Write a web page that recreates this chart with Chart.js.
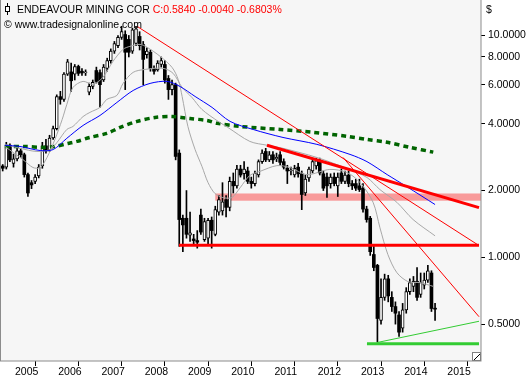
<!DOCTYPE html>
<html>
<head>
<meta charset="utf-8">
<script src="https://cdn.jsdelivr.net/npm/chart.js@4.4.0/dist/chart.umd.min.js"></script>
<style>
  html, body { margin: 0; padding: 0; background: #fff; }
  canvas { display: block; }
</style>
</head>
<body>
<canvas id="chart" width="530" height="378"></canvas>
<script>
// Bougies mensuelles, index 0 = octobre 2004 ... 120 = octobre 2014
const opens = [2.58,2.55,3.20,2.65,2.78,3.02,2.90,2.36,2.17,2.20,2.33,2.58,3.18,3.05,3.45,3.80,5.30,5.15,6.70,6.85,
  6.70,7.25,6.90,6.78,5.55,5.90,6.95,6.80,6.30,7.10,7.70,8.50,9.00,9.80,10.1,9.60,8.50,9.20,9.90,9.10,
  8.20,8.40,7.10,7.00,7.40,7.40,6.40,5.70,6.00,2.95,1.50,1.50,1.26,1.21,1.19,1.55,1.20,1.22,1.47,1.27,
  1.60,1.62,1.82,1.68,2.20,2.10,2.50,2.38,2.45,2.20,2.15,2.35,2.70,3.00,2.75,2.90,2.78,2.90,2.70,2.52,
  2.45,2.35,2.55,2.38,1.95,2.28,2.45,2.58,2.72,2.38,2.30,2.15,2.30,2.10,2.40,2.20,2.35,2.15,2.15,2.10,
  2.05,1.65,1.50,1.03,0.92,0.52,0.66,0.80,0.66,0.60,0.55,0.48,0.58,0.70,0.74,0.78,0.68,0.75,0.79,0.85,0.588];
const highs = [2.62,3.30,3.25,2.92,3.12,3.10,2.95,2.40,2.22,2.36,2.62,3.30,3.40,3.55,3.90,5.40,5.60,6.80,7.80,7.50,
  7.40,7.35,7.10,7.00,6.10,6.30,7.20,7.00,7.40,7.90,8.70,9.40,10.0,11.0,10.5,10.0,10.8,11.0,10.4,9.40,
  8.80,8.60,7.30,7.70,8.00,7.70,6.60,6.30,6.10,3.05,1.55,2.00,1.60,1.27,1.32,1.65,1.50,1.50,1.52,1.70,
  1.90,2.17,1.90,2.30,2.40,2.60,2.60,2.70,2.55,2.30,2.45,2.75,3.05,3.10,3.00,3.00,2.95,3.00,2.78,2.60,
  2.55,2.60,2.65,2.45,2.35,2.55,2.75,2.80,2.80,2.45,2.40,2.38,2.40,2.40,2.50,2.45,2.45,2.22,2.25,2.25,
  2.15,1.70,1.53,1.12,0.93,0.80,0.84,0.83,0.70,0.63,0.57,0.62,0.73,0.80,0.82,0.90,0.85,0.85,0.92,0.87,0.62];
const lows = [2.45,2.50,2.70,2.55,2.72,2.82,2.30,1.88,2.04,2.15,2.28,2.52,2.95,3.00,3.40,3.75,4.90,5.05,6.60,5.60,
  6.30,6.60,6.60,6.60,5.40,5.75,6.10,4.75,6.20,6.90,7.50,8.30,8.80,9.60,5.70,8.00,8.30,9.00,8.60,6.00,
  7.90,6.90,6.70,6.90,7.20,6.10,5.15,5.40,2.75,1.12,1.06,1.22,1.18,1.14,1.10,1.27,1.18,1.13,1.10,1.25,
  1.55,1.55,1.52,1.62,1.95,2.05,2.30,2.25,2.15,2.05,2.10,2.30,2.65,2.70,2.70,2.65,2.70,2.60,2.50,2.15,
  2.35,2.30,2.30,1.64,1.90,2.20,2.40,2.50,2.35,2.00,1.86,2.05,2.10,1.88,2.15,2.15,2.08,2.02,2.00,1.98,
  1.60,1.44,1.02,0.87,0.415,0.50,0.64,0.63,0.57,0.50,0.44,0.46,0.56,0.68,0.70,0.64,0.66,0.72,0.77,0.57,0.52];
const closes = [2.52,3.20,2.75,2.78,3.02,2.90,2.36,1.95,2.12,2.30,2.55,3.18,3.02,3.45,3.80,5.30,5.15,6.70,7.60,6.25,
  7.25,6.75,6.78,6.85,5.90,6.15,6.20,6.00,7.20,7.70,8.50,9.20,9.80,10.4,8.40,8.40,10.6,10.7,9.00,7.80,
  8.50,7.10,6.90,7.50,7.70,6.30,5.70,6.00,2.85,1.48,1.40,1.27,1.29,1.19,1.17,1.30,1.45,1.47,1.32,1.64,
  1.82,1.78,1.68,2.20,2.10,2.50,2.35,2.50,2.20,2.15,2.40,2.70,2.95,2.75,2.90,2.75,2.82,2.68,2.55,2.45,
  2.47,2.52,2.38,1.92,2.25,2.50,2.70,2.72,2.40,2.05,2.10,2.30,2.15,2.30,2.20,2.35,2.15,2.10,2.05,2.02,
  1.65,1.48,1.06,0.90,0.53,0.66,0.80,0.67,0.60,0.56,0.46,0.58,0.70,0.77,0.78,0.66,0.77,0.79,0.87,0.588,0.584];

// Moyennes mobiles (index de mois, valeur)
const fastMaMonths = [0.6,5.6,8.4,10.4,12.3,14.5,16.5,17.8,19.5,22.3,25.1,27.8,30.6,33.4,35.3,38.1,40.1,43.7,47.0,48.7,
  49.8,51.4,53.4,55.3,57.0,58.9,61.1,63.6,65.9,68.6,71.4,76.1,79.7,84.5,90.8,95.6,99.2,102.8,104.7,106.9,109.4,112.5,115.8,119.7];
const fastMaValues = [3.16,2.76,2.54,2.54,2.82,3.40,4.18,4.89,5.83,6.21,6.02,6.47,7.64,8.66,8.93,9.12,8.84,8.05,7.18,6.34,
  5.31,3.89,3.06,2.57,2.17,1.94,1.86,1.86,2.06,2.34,2.44,2.59,2.54,2.36,2.49,2.41,2.17,1.77,1.36,1.03,0.853,0.777,0.769,0.738];
const slowMaMonths = [0.6,4.8,9.5,13.1,15.1,17.8,19.5,22.3,24.2,27.0,28.9,31.7,33.4,36.2,39.5,44.5,47.3,49.8,52.5,55.3,
  59.8,62.5,68.6,73.4,77.8,87.2,95.6,101.1,104.7,109.4,113.9,120.0];
const slowMaValues = [3.23,3.10,3.00,3.06,3.30,3.77,3.89,4.31,4.50,4.74,5.15,5.37,6.08,6.82,7.03,7.11,6.75,5.83,5.26,4.64,
  4.10,3.85,3.33,3.20,3.10,2.82,2.51,2.29,2.02,1.77,1.48,1.25];
const blueMaMonths = [0.6,4.8,10.4,14.0,17.8,22.3,27.0,31.7,36.2,40.9,45.6,49.2,53.4,58.1,63.1,69.5,77.8,87.2,96.4,101.1,106.7,112.2,120.0];
const blueMaValues = [3.20,3.16,3.03,3.06,3.44,3.93,4.36,4.99,5.65,6.08,6.21,5.89,5.31,4.74,4.10,3.77,3.47,3.23,2.91,2.70,2.36,2.08,1.73];
const greenMaMonths = [0.6,6.2,11.2,14.5,18.1,20.6,24.2,28.9,32.6,37.3,42.3,47.0,52.0,56.7,59.5,65.9,77.0,86.1,95.6,101.1,106.7,113.0,119.5];
const greenMaValues = [3.16,3.16,3.13,3.16,3.26,3.33,3.47,3.62,3.85,4.10,4.27,4.31,4.22,4.14,4.02,3.89,3.77,3.66,3.51,3.40,3.30,3.13,2.98];

// Lignes de tendance et zones
const trendFromTopMonths = [37.27, 132.2];
const trendFromTopValues = [11.0, 1.13];
const trendThickMonths = [73.35, 132.2];
const trendThickValues = [3.20, 1.676];
const trendSteepMonths = [94.45, 132.2];
const trendSteepValues = [2.82, 0.540];
const supportRedMonths = [48.93, 132.2];
const supportRedValues = [1.133, 1.133];
const supportGreenMonths = [101.1, 132.2];
const supportGreenValues = [0.408, 0.408];
const risingGreenMonths = [103.9, 132.2];
const risingGreenValues = [0.413, 0.515];
const bandStartMonth = 59.0;
const bandRange = [1.80, 1.94];

// Axes
const yearTicks = [3, 15, 27, 39, 51, 63, 75, 87, 99, 111, 123];
const yearLabels = ["2005","2006","2007","2008","2009","2010","2011","2012","2013","2014","2015"];
const priceTicks = [0.5, 1, 2, 4, 6, 8, 10];

const idx = opens.map((_, i) => i);
const pts = (ms, vs) => ms.map((m, i) => ({ x: m, y: vs[i] }));

const wickData = idx.map(i => ({ x: i, y: [lows[i], highs[i]] }));
const upData = idx.filter(i => closes[i] >= opens[i]).map(i => ({ x: i, y: [opens[i], closes[i]] }));
const downData = idx.filter(i => closes[i] < opens[i]).map(i => ({ x: i, y: [opens[i], closes[i]] }));

const lineDs = (data, color, width, tension, extra) => Object.assign({
  type: "line",
  data,
  borderColor: color,
  borderWidth: width,
  pointRadius: 0,
  tension,
  fill: false,
  order: 1,
}, extra || {});

const FONT = "'Liberation Sans', Arial, sans-serif";

const decor = {
  id: "decor",
  beforeDraw(chart) {
    const { ctx, chartArea: a } = chart;
    ctx.save();
    ctx.fillStyle = "#fff";
    ctx.fillRect(0, 0, chart.width, chart.height);
    ctx.fillStyle = "#f6f6f6";
    ctx.fillRect(a.left, a.top, a.right - a.left, a.bottom - a.top);
    ctx.restore();
  },
  beforeDatasetsDraw(chart) {
    const { ctx, chartArea: a, scales } = chart;
    const x0 = scales.x.getPixelForValue(bandStartMonth);
    const yTop = scales.y.getPixelForValue(bandRange[1]);
    const yBot = scales.y.getPixelForValue(bandRange[0]);
    ctx.save();
    ctx.fillStyle = "#f89a9a";
    ctx.fillRect(x0, yTop, a.right - x0, yBot - yTop);
    ctx.restore();
  },
  afterDraw(chart) {
    const { ctx, chartArea: a } = chart;
    ctx.save();
    // cadre
    ctx.strokeStyle = "#8c8c8c";
    ctx.lineWidth = 1;
    ctx.strokeRect(a.left + 0.5, a.top - 0.5, a.right - a.left - 0.5, a.bottom - a.top + 0.5);
    // poignée en bas à droite
    ctx.fillStyle = "#fff";
    ctx.fillRect(a.right - 8, a.bottom - 8, 7, 7);
    ctx.strokeStyle = "#808080";
    ctx.strokeRect(a.right - 8.5, a.bottom - 8.5, 8, 8);
    ctx.strokeStyle = "#000";
    ctx.beginPath();
    ctx.moveTo(a.right - 7, a.bottom - 1);
    ctx.lineTo(a.right - 1, a.bottom - 7);
    ctx.stroke();
    // icône bougie
    ctx.strokeStyle = "#000";
    ctx.beginPath();
    ctx.moveTo(7.5, 3); ctx.lineTo(7.5, 15);
    ctx.stroke();
    ctx.fillStyle = "#fff";
    ctx.fillRect(5, 6, 5, 6);
    ctx.strokeRect(5.5, 6.5, 4, 5);
    // titres
    ctx.font = "10.5px " + FONT;
    ctx.textBaseline = "alphabetic";
    ctx.fillStyle = "#000";
    const title = "ENDEAVOUR MINING COR ";
    ctx.fillText(title, 17, 13);
    const w = ctx.measureText(title).width;
    ctx.fillStyle = "#ff0000";
    ctx.fillText("C:0.5840 -0.0040 -0.6803%", 17 + w, 13);
    ctx.fillStyle = "#000";
    ctx.fillText("\u00A9 www.tradesignalonline.com", 4, 28);
    ctx.fillText("$", a.right + 5, 13);
    ctx.restore();
  },
};

new Chart(document.getElementById("chart"), {
  type: "bar",
  data: {
    datasets: [
      { type: "bar", data: wickData, backgroundColor: "#000", barThickness: 1, grouped: false, order: 10 },
      { type: "bar", data: upData, backgroundColor: "#fff", borderColor: "#000", borderWidth: 1,
        borderSkipped: false, barThickness: 3, grouped: false, minBarLength: 1, order: 9 },
      { type: "bar", data: downData, backgroundColor: "#000", borderColor: "#000", borderWidth: 0,
        barThickness: 3, grouped: false, minBarLength: 1, order: 9 },
      lineDs(pts(greenMaMonths, greenMaValues), "#006400", 3.5, 0.3, { borderDash: [5, 4], order: 5 }),
      lineDs(pts(blueMaMonths, blueMaValues), "#0000ff", 1, 0.3, { order: 4 }),
      lineDs(pts(slowMaMonths, slowMaValues), "#a8a8a8", 1, 0.3, { order: 4 }),
      lineDs(pts(fastMaMonths, fastMaValues), "#a8a8a8", 1, 0.3, { order: 4 }),
      lineDs(pts(trendFromTopMonths, trendFromTopValues), "#ff0000", 1, 0),
      lineDs(pts(trendSteepMonths, trendSteepValues), "#ff0000", 1, 0),
      lineDs(pts(trendThickMonths, trendThickValues), "#ff0000", 3, 0),
      lineDs(pts(supportRedMonths, supportRedValues), "#ff0000", 3, 0),
      lineDs(pts(supportGreenMonths, supportGreenValues), "#33cc33", 3, 0),
      lineDs(pts(risingGreenMonths, risingGreenValues), "#33cc33", 1, 0),
    ],
  },
  options: {
    responsive: false,
    animation: false,
    devicePixelRatio: 1,
    layout: { padding: 0 },
    plugins: { legend: { display: false }, tooltip: { enabled: false } },
    scales: {
      x: {
        type: "linear",
        position: "bottom",
        bounds: "data",
        min: -0.75,
        max: 132.75,
        offset: false,
        afterBuildTicks: (scale) => { scale.ticks = yearTicks.map(v => ({ value: v })); },
        afterFit: (scale) => {
          scale.height = 17;
          scale.paddingLeft = 0;
          scale.paddingRight = 0;
        },
        grid: { drawOnChartArea: false, drawTicks: true, tickLength: 5, color: "#000" },
        border: { display: false },
        ticks: {
          autoSkip: false,
          maxRotation: 0,
          align: "start",
          labelOffset: 1.5,
          padding: 0,
          color: "#000",
          font: { family: FONT, size: 10.5 },
          callback: (v) => yearLabels[yearTicks.indexOf(v)],
        },
      },
      y: {
        type: "logarithmic",
        position: "right",
        bounds: "data",
        min: 0.341,
        max: 14.45,
        afterBuildTicks: (scale) => { scale.ticks = priceTicks.map(v => ({ value: v })); },
        afterFit: (scale) => {
          scale.width = 49;
          scale.paddingTop = 0;
          scale.paddingBottom = 0;
        },
        grid: { drawOnChartArea: false, drawTicks: true, tickLength: 4, color: "#000" },
        border: { display: false },
        ticks: {
          autoSkip: false,
          padding: 3,
          color: "#000",
          font: { family: FONT, size: 10.5 },
          callback: (v) => Number(v).toFixed(4),
        },
      },
    },
  },
  plugins: [decor],
});
</script>
</body>
</html>
